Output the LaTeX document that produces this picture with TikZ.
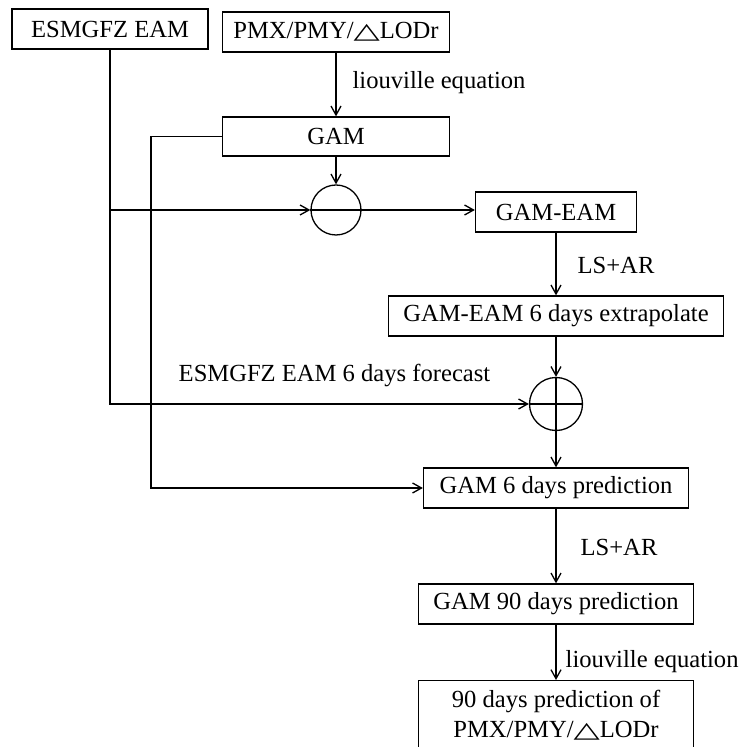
\documentclass[tikz,border=0pt]{standalone}
\usepackage{fontspec}
\setmainfont{Liberation Serif}
\newfontfamily\symf{DejaVu Sans}
\usetikzlibrary{arrows.meta}
\newcommand{\tri}{\scalebox{1.55}[1]{\symf\fontsize{11}{15}\selectfont △}}
\newcommand{\fs}{\fontsize{12.3}{15}\selectfont}
\begin{document}
\begin{tikzpicture}[x=0.5pt,y=-0.5pt, line width=0.65pt,
  >={Straight Barb[length=4.5pt,width=5pt]},
  box/.style={draw, rectangle, minimum height=20pt, inner sep=0pt, font=\fs},
  junc/.style={draw, circle, inner sep=0pt},
  lab/.style={font=\fs, inner sep=0pt}]
\useasboundingbox (0,0) rectangle (742,747);
% boxes
\node[box, minimum width=98pt] (esm) at (110,29) {ESMGFZ EAM};
\node[box, minimum width=113.5pt] (pmx) at (336,32) {PMX/PMY/\tri LODr};
\node[box, minimum width=113.5pt, minimum height=19.5pt] (gam) at (336,136.5) {GAM};
\node[junc, minimum size=25pt] (c1) at (336,210) {};
\node[box, minimum width=80.5pt] (ge) at (556,212) {GAM-EAM};
\node[box, minimum width=167.5pt] (ext) at (556,316) {GAM-EAM 6 days extrapolate};
\node[junc, minimum size=26.5pt] (c2) at (556,404) {};
\node[box, minimum width=132.5pt] (g6) at (556,488) {GAM 6 days prediction};
\node[box, minimum width=137.5pt] (g90) at (556,604) {GAM 90 days prediction};
\node[box, minimum width=137.5pt, anchor=north, align=center, inner ysep=5pt] (fin) at (556,680) {90 days prediction of\\PMX/PMY/\tri LODr};
% labels
\node[lab, anchor=west] (l1) at (352,83) {liouville equation};
\node[lab, anchor=west] (l2) at (577,265) {LS+AR};
\node[lab] (l3) at (334.5,375) {ESMGFZ EAM 6 days forecast};
\node[lab, anchor=west] (l4) at (580,547) {LS+AR};
\node[lab, anchor=west] (l5) at (565,662) {liouville equation};
% connectors
\coordinate (gl) at (151,0);
\draw[->] (pmx.south) -- (gam.north);
\draw[->] (gam.south) -- (c1.north);
\draw[->] (esm.south) |- (c2.west);
\draw[->] (esm.south |- c1.west) -- (c1.west);
\draw (c1.west) -- (c1.east);
\draw[->] (c1.east) -- (c1.east -| ge.west);
\draw[->] (gam.west) -- (gam.west -| gl) |- (g6.west);
\draw[->] (ge.south) -- (ext.north);
\draw[->] (ext.south) -- (c2.north);
\draw (c2.north) -- (c2.south);
\draw (c2.west) -- (c2.east);
\draw[->] (c2.south) -- (g6.north);
\draw[->] (g6.south) -- (g90.north);
\draw[->] (g90.south) -- (fin.north);
\end{tikzpicture}
\end{document}
